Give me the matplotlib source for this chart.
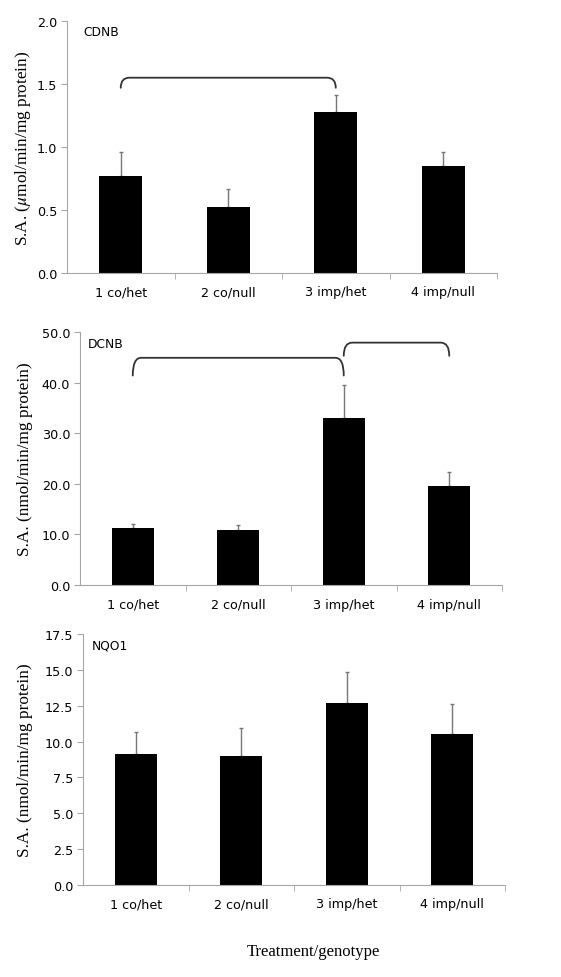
import numpy as np
import matplotlib
matplotlib.use('Agg')
import matplotlib.pyplot as plt
from matplotlib.path import Path
from matplotlib.patches import PathPatch

plt.rcParams['mathtext.fontset'] = 'stix'

categories = ['1 co/het', '2 co/null', '3 imp/het', '4 imp/null']

cdnb_mean = [0.77, 0.52, 1.28, 0.85]
cdnb_err = [0.19, 0.15, 0.13, 0.11]

dcnb_mean = [11.2, 10.9, 33.0, 19.5]
dcnb_err = [0.9, 1.0, 6.6, 2.9]

nqo1_mean = [9.1, 9.0, 12.7, 10.5]
nqo1_err = [1.55, 1.95, 2.15, 2.15]

# brackets: (from bar, to bar, low end, top)
cdnb_brackets = [(0, 2, 1.47, 1.55)]
dcnb_brackets = [(0, 2, 41.4, 44.9), (2, 3, 45.3, 47.9)]

GRAY = '#a6a6a6'
W, H = 561, 978

# axes box in pixels: left, top, right, bottom ; name label offset (px)
panels = [
    dict(name='CDNB', mean=cdnb_mean, err=cdnb_err, ymax=2.0, step=0.5,
         ylabel='S.A. ($\\mu$mol/min/mg protein)', brackets=cdnb_brackets,
         box=(67, 22, 497, 274), name_dx=16),
    dict(name='DCNB', mean=dcnb_mean, err=dcnb_err, ymax=50.0, step=10.0,
         ylabel='S.A. (nmol/min/mg protein)', brackets=dcnb_brackets,
         box=(80, 333, 502, 586), name_dx=8),
    dict(name='NQO1', mean=nqo1_mean, err=nqo1_err, ymax=17.5, step=2.5,
         ylabel='S.A. (nmol/min/mg protein)', brackets=[],
         box=(83, 635, 505, 886), name_dx=9),
]


def bracket(ax, i0, i1, ylow, ytop):
    dx = 0.08
    verts = [(i0, ylow), (i0, ytop), (i0 + dx, ytop),
             (i1 - dx, ytop),
             (i1, ytop), (i1, ylow)]
    codes = [Path.MOVETO, Path.CURVE3, Path.CURVE3,
             Path.LINETO, Path.CURVE3, Path.CURVE3]
    ax.add_patch(PathPatch(Path(verts, codes), fill=False, lw=1.3,
                           edgecolor='#333333', capstyle='round'))


fig = plt.figure(figsize=(W / 100, H / 100), dpi=100)
x = np.arange(len(categories))

for p in panels:
    l, t, r, b = p['box']
    ax = fig.add_axes([l / W, 1 - b / H, (r - l) / W, (b - t) / H])
    ax.bar(x, p['mean'], width=0.4, color='black', zorder=2)
    ax.errorbar(x, p['mean'], yerr=[np.zeros(4), p['err']], fmt='none',
                ecolor='#777777', elinewidth=1, capsize=1.5, capthick=1, zorder=1)
    for i0, i1, lo, hi in p['brackets']:
        bracket(ax, i0, i1, lo, hi)
    ax.set_xlim(-0.5, 3.5)
    ax.set_ylim(0, p['ymax'])
    ax.set_yticks(np.arange(0, p['ymax'] + p['step'] / 2, p['step']))
    ax.set_yticklabels([f'{v:.1f}' for v in ax.get_yticks()],
                       fontsize=9.2, family='DejaVu Sans')
    ax.set_xticks(x)
    ax.set_xticklabels(categories, fontsize=9.2, family='DejaVu Sans')
    ax.set_xticks(np.arange(0.5, 4, 1), minor=True)
    ax.tick_params(axis='x', which='major', length=0, pad=9)
    ax.tick_params(axis='x', which='minor', length=4, color=GRAY)
    ax.tick_params(axis='y', length=4, color=GRAY, pad=3)
    for s in ['top', 'right']:
        ax.spines[s].set_visible(False)
    for s in ['left', 'bottom']:
        ax.spines[s].set_color(GRAY)
        ax.spines[s].set_linewidth(0.8)
    ax.set_ylabel(p['ylabel'], family='Liberation Serif', fontsize=12.4)
    ax.yaxis.set_label_coords((33 - l) / (r - l), 0.5)
    ax.text(p['name_dx'] / (r - l), 1 - 11 / (b - t), p['name'],
            transform=ax.transAxes, fontsize=8.8,
            family='DejaVu Sans', va='center', ha='left')

fig.text(313 / W, 1 - 952 / H, 'Treatment/genotype', family='Liberation Serif',
         fontsize=12, ha='center', va='center')

fig.savefig('out.png', dpi=100)
